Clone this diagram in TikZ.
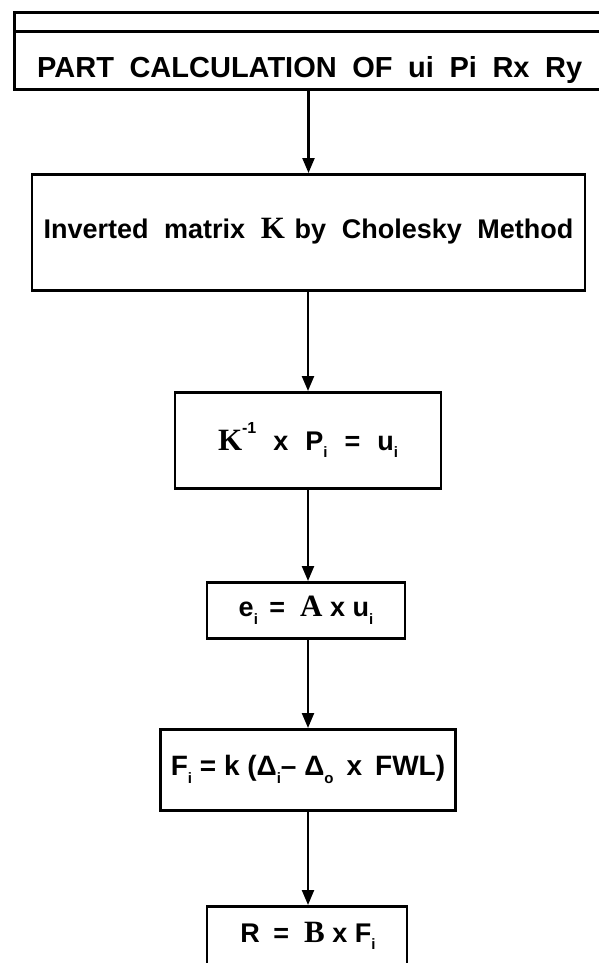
\documentclass[tikz,border=0pt]{standalone}
\usepackage{fontspec}
\setmainfont{Liberation Sans}
\newfontfamily\tms{Liberation Serif}
\usetikzlibrary{arrows.meta}
\newcommand{\lo}[1]{\raisebox{-0.55ex}{\fontsize{15pt}{15pt}\selectfont #1}}
\newcommand{\hi}[1]{\raisebox{1.15ex}{\fontsize{16pt}{16pt}\selectfont #1}}
\newcommand{\sv}[1]{{\tms\bfseries\fontsize{31pt}{31pt}\selectfont #1}}
\begin{document}
\begin{tikzpicture}[x=1pt,y=-1pt,
  box/.style={draw, line width=2.7pt, inner sep=0pt, anchor=north},
  arr/.style={line width=2.3pt, -{Triangle[length=15pt,width=12pt]}},
  big/.style={font=\bfseries\fontsize{27pt}{27pt}\selectfont},
  eq/.style={font=\bfseries\fontsize{27pt}{27pt}\selectfont}]
\useasboundingbox (0,0) rectangle (598,963);
% top box (runs off the right edge)
\node[box, anchor=north west, minimum width=600pt, minimum height=19pt] (strip) at (13,11) {};
\node[box, anchor=north west, minimum width=600pt, minimum height=58pt] (top) at (13,30) {};
\node[anchor=base west, inner sep=0pt, font=\bfseries\fontsize{29pt}{29pt}\selectfont] (toptext) at (37,78)
  {\makebox[545pt][s]{PART CALCULATION OF ui Pi Rx Ry}};
% box 2
\node[box, minimum width=553pt, minimum height=116pt] (b2) at (308.5,173) {};
\node[big, anchor=base, inner sep=0pt] (b2text) at (b2.center |- 0,238)
  {\makebox[530pt][s]{Inverted matrix \sv{K}\hspace{-6pt} by Cholesky Method}};
% box 3
\node[box, eq, minimum width=266pt, minimum height=96pt] (b3) at (308,391)
  {\sv{K}\hi{-1}\hspace{17pt}x\hspace{17pt}P\lo{i}\hspace{17pt}=\hspace{17pt}u\lo{i}};
% box 4
\node[box, eq, minimum width=198pt, minimum height=56pt] (b4) at (306,581)
  {e\lo{i}\hspace{4pt} =\hspace{15pt}\sv{A} x u\lo{i}};
% box 5
\node[box, font=\bfseries\fontsize{28pt}{28pt}\selectfont, minimum width=295pt, minimum height=81pt] (b5) at (308,728)
  {F\lo{i} = k (Δ\lo{i}– Δ\lo{o}\hspace{13pt}x\hspace{13pt}FWL)};
% box 6 (runs off the bottom edge)
\node[box, minimum width=200pt, minimum height=75pt] (b6) at (307,905) {};
\node[eq, anchor=base, inner sep=0pt] (b6text) at (308,942) {R\hspace{6pt} =\hspace{15pt}\sv{B} x F\lo{i}};
% connectors
\draw[arr] (top.south -| b2.north) -- (b2.north);
\draw[arr] (b2.south -| b3.north) -- (b3.north);
\draw[arr] (b3.south) -- (b3.south |- b4.north);
\draw[arr] (b4.south -| b3.south) -- (b3.south |- b5.north);
\draw[arr] (b5.south) -- (b5.south |- b6.north);
\end{tikzpicture}
\end{document}
